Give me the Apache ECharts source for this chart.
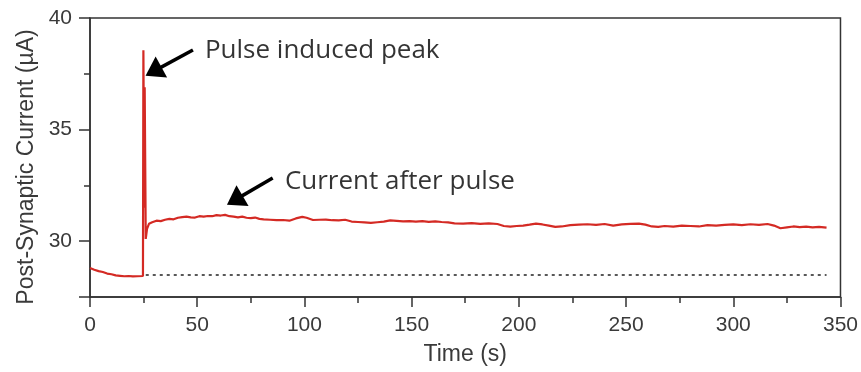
<!DOCTYPE html>
<html>
<head>
    <meta http-equiv="content-type" content="text/html; charset=utf-8">
    <script src="https://cdn.jsdelivr.net/npm/echarts@6/dist/echarts.min.js"></script>
    <style>
        body { margin: 0; background: #fff; }
        #main { width: 861px; height: 372px; }
    </style>
</head>
<body>
<div id="main"></div>
<script>
    // 时间 (s)
    var timeData = [0, 2, 4, 6, 8, 10, 12, 14, 16, 18, 20, 22, 24.7, 24.9, 25.3, 25.5, 26, 26.6, 27.5, 29,
        31, 33, 35, 37, 39, 41, 43, 45, 47, 49, 51, 53, 55, 57, 59, 61, 63, 65, 67, 69,
        71, 73, 75, 77, 79, 81, 84, 87, 90, 93, 96, 99, 101, 104, 107, 110, 113, 116, 119, 122,
        125, 128, 131, 134, 137, 140, 143, 146, 149, 152, 155, 158, 161, 164, 167, 170, 174, 178, 182, 186,
        190, 193, 196, 199, 202, 205, 208, 211, 214, 217, 220, 224, 228, 232, 236, 240, 244, 248, 252, 256,
        259, 262, 265, 268, 272, 276, 280, 284, 288, 292, 296, 300, 304, 308, 312, 316, 319, 322, 325, 328,
        331, 334, 337, 340, 343.5];
    // 电流 (µA)
    var currentData = [28.80, 28.72, 28.66, 28.62, 28.55, 28.52, 28.47, 28.45, 28.43, 28.44, 28.42, 28.43, 28.44, 38.55, 31.5, 36.9, 30.1, 30.55, 30.78, 30.85,
        30.92, 30.90, 30.96, 31.00, 30.98, 31.05, 31.08, 31.10, 31.07, 31.06, 31.12, 31.10, 31.13, 31.12, 31.17, 31.15, 31.18, 31.12, 31.10, 31.07,
        31.10, 31.05, 31.03, 31.06, 31.00, 30.98, 30.96, 30.94, 30.95, 30.92, 31.02, 31.09, 31.05, 30.95, 30.96, 30.97, 30.94, 30.93, 30.96, 30.88,
        30.86, 30.84, 30.82, 30.85, 30.88, 30.93, 30.91, 30.89, 30.90, 30.88, 30.90, 30.87, 30.89, 30.86, 30.84, 30.80, 30.79, 30.81, 30.78, 30.80,
        30.77, 30.68, 30.65, 30.68, 30.70, 30.74, 30.79, 30.75, 30.70, 30.64, 30.66, 30.72, 30.74, 30.76, 30.73, 30.77, 30.70, 30.75, 30.78, 30.79,
        30.74, 30.66, 30.64, 30.68, 30.65, 30.70, 30.68, 30.66, 30.72, 30.70, 30.73, 30.75, 30.72, 30.76, 30.73, 30.77, 30.70, 30.58, 30.62, 30.66,
        30.63, 30.65, 30.62, 30.64, 30.61];

    // 基线
    var baselineValue = 28.5;
    var baselineRange = [26, 343.5];

    // 坐标刻度
    var yMajorTicks = [27.5, 30, 35, 40];
    var yMinorTicks = [32.5, 37.5];
    var yTickLabels = [30, 35, 40];

    // 注释 (文字 + 箭头)
    var annotText = ['Pulse induced peak', 'Current after pulse'];
    var annotTextPos = [[53.6, 38.52], [90.9, 32.69]];
    var arrowTail = [[48.0, 38.57], [85.2, 32.83]];
    var arrowHead = [[29.6, 37.61], [67.5, 31.84]];

    var seriesData = timeData.map(function (t, i) { return [t, currentData[i]]; });
    var textData = annotText.map(function (s, i) {
        return { value: annotTextPos[i], name: s };
    });
    var arrowLines = arrowTail.map(function (p, i) {
        return [{ coord: p }, { coord: arrowHead[i] }];
    });

    var axisColor = '#333';
    var labelColor = '#3a3a3a';
    var font = 'Liberation Sans';

    var chart = echarts.init(document.getElementById('main'));
    var option = {
        animation: false,
        grid: {
            left: 90, right: 20, top: 18, bottom: 75,
            show: true, borderColor: axisColor, borderWidth: 1.5
        },
        xAxis: {
            type: 'value', min: 0, max: 350, interval: 50,
            name: 'Time (s)', nameLocation: 'middle', nameGap: 46,
            nameTextStyle: { fontFamily: font, fontSize: 23, color: labelColor },
            axisLine: { lineStyle: { color: axisColor, width: 1.5 } },
            axisTick: { length: 10, lineStyle: { color: axisColor, width: 1.5 } },
            minorTick: { show: true, splitNumber: 2, length: 6, lineStyle: { color: axisColor, width: 1.5 } },
            axisLabel: { fontFamily: font, fontSize: 21, color: labelColor, margin: 18 },
            splitLine: { show: false }
        },
        yAxis: [{
            type: 'value', min: 27.5, max: 40, interval: 2.5,
            name: 'Post-Synaptic Current (µA)', nameLocation: 'middle', nameGap: 52,
            nameTextStyle: { fontFamily: font, fontSize: 23, color: labelColor, padding: [0, 19, 0, 0] },
            axisLine: { show: true, lineStyle: { color: axisColor, width: 1.5 } },
            axisTick: { show: true, length: 11, customValues: yMajorTicks, lineStyle: { color: axisColor, width: 1.5 } },
            axisLabel: { fontFamily: font, fontSize: 21, color: labelColor, margin: 18, customValues: yTickLabels },
            splitLine: { show: false }
        }, {
            type: 'value', min: 27.5, max: 40, interval: 2.5, position: 'left',
            axisLine: { show: false },
            axisTick: { show: true, length: 6, customValues: yMinorTicks, lineStyle: { color: axisColor, width: 1.5 } },
            axisLabel: { show: false },
            splitLine: { show: false }
        }],
        series: [{
            type: 'line',
            data: seriesData,
            showSymbol: false,
            lineStyle: { color: '#d42a24', width: 2.2 },
            itemStyle: { color: '#d42a24' },
            markLine: {
                silent: true,
                symbol: ['none', 'none'],
                label: { show: false },
                lineStyle: { color: '#222', width: 1.5, type: [3, 4] },
                data: [[{ coord: [baselineRange[0], baselineValue] }, { coord: [baselineRange[1], baselineValue] }]]
            }
        }, {
            type: 'scatter',
            data: textData,
            symbolSize: 0,
            label: {
                show: true, position: 'right', distance: 0,
                formatter: '{b}',
                fontFamily: 'Open Sans', fontSize: 26, color: '#000'
            },
            markLine: {
                silent: true,
                symbol: ['none', 'triangle'],
                symbolSize: [24, 18],
                label: { show: false },
                lineStyle: { color: '#000', width: 3.5, type: 'solid' },
                itemStyle: { color: '#000' },
                data: arrowLines
            }
        }]
    };
    chart.setOption(option);
</script>
</body>
</html>
